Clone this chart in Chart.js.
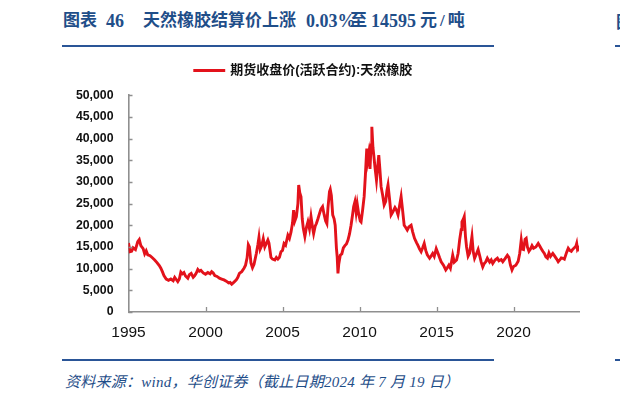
<!DOCTYPE html>
<html>
<head>
<meta charset="utf-8">
<script src="https://cdn.jsdelivr.net/npm/chart.js@4.4.1/dist/chart.umd.min.js"></script>
<style>
    html, body { margin: 0; padding: 0; background: #fff; }
    body { width: 620px; height: 401px; position: relative; overflow: hidden;
           font-family: "Liberation Serif", "Noto Sans CJK SC", serif; }
    .title span { position: absolute; top: 9px; color: #1f4e89; font-size: 17px;
                  font-weight: bold; white-space: pre; line-height: 24px; }
    .title .num { font-size: 18px; }
    .rule { position: absolute; height: 2px; background: #2a5597; }
    .source { position: absolute; left: 65px; top: 372px; color: #1f4e89; font-size: 15px;
              letter-spacing: 0.25px; font-style: italic; white-space: pre; line-height: 20px; }
    .edge { position: absolute; left: 616px; top: 9px; color: #1f4e89; font-size: 17px;
            font-weight: bold; line-height: 24px; font-family: "Noto Sans CJK SC"; }
    #wrap { position: absolute; left: 0; top: 30px; width: 620px; height: 312px; }
</style>
</head>
<body>
<div class="title">
    <span style="left:63px">图表</span>
    <span class="num" style="left:106px">46</span>
    <span style="left:143px">天然橡胶结算价上涨</span>
    <span class="num" style="left:306px">0.03%</span>
    <span style="left:350px">至</span>
    <span class="num" style="left:371px">14595</span>
    <span style="left:420px; letter-spacing:3px">元/吨</span>
</div>
<div class="rule" style="left:62px; top:45px; width:432px;"></div>
<div class="edge">图</div>
<div class="rule" style="left:615px; top:45px; width:5px;"></div>
<div id="wrap"><canvas id="rubberChart"></canvas></div>
<div class="rule" style="left:62px; top:359px; width:432px;"></div>
<div class="rule" style="left:615px; top:359px; width:5px;"></div>
<div class="source">资料来源：wind，华创证券（截止日期2024 年 7 月 19 日）</div>

<script>
// Futures close (active contract), natural rubber, 元/吨
const seriesLabel = '期货收盘价(活跃合约):天然橡胶';

const years = [
    1995.00, 1995.10, 1995.20, 1995.30, 1995.45, 1995.60, 1995.70, 1995.80, 1995.95, 1996.05,
    1996.15, 1996.25, 1996.40, 1996.55, 1996.70, 1996.85, 1997.00, 1997.10, 1997.20, 1997.30,
    1997.45, 1997.60, 1997.75, 1997.90, 1998.00, 1998.10, 1998.20, 1998.30, 1998.40, 1998.50,
    1998.60, 1998.70, 1998.85, 1998.95, 1999.07, 1999.20, 1999.30, 1999.40, 1999.50, 1999.60,
    1999.70, 1999.85, 2000.00, 2000.15, 2000.30, 2000.40, 2000.50, 2000.60, 2000.75, 2000.90,
    2001.05, 2001.20, 2001.35, 2001.50, 2001.60, 2001.70, 2001.85, 2002.00, 2002.10, 2002.20,
    2002.35, 2002.50, 2002.60, 2002.70, 2002.78, 2002.85, 2002.95, 2003.05, 2003.15, 2003.30,
    2003.40, 2003.47, 2003.55, 2003.65, 2003.75, 2003.85, 2003.95, 2004.05, 2004.12, 2004.25,
    2004.35, 2004.50, 2004.60, 2004.70, 2004.80, 2004.90, 2005.00, 2005.10, 2005.20, 2005.35,
    2005.45, 2005.55, 2005.65, 2005.72, 2005.80, 2005.90, 2006.00, 2006.05, 2006.12, 2006.20,
    2006.28, 2006.35, 2006.45, 2006.55, 2006.65, 2006.75, 2006.85, 2006.95, 2007.02, 2007.12,
    2007.20, 2007.30, 2007.40, 2007.50, 2007.60, 2007.70, 2007.80, 2007.88, 2007.95, 2008.05,
    2008.10, 2008.17, 2008.26, 2008.35, 2008.42, 2008.50, 2008.55, 2008.60, 2008.65, 2008.75,
    2008.85, 2008.95, 2009.05, 2009.15, 2009.25, 2009.35, 2009.45, 2009.55, 2009.62, 2009.70,
    2009.78, 2009.85, 2009.95, 2010.05, 2010.10, 2010.20, 2010.30, 2010.38, 2010.47, 2010.53,
    2010.60, 2010.68, 2010.75, 2010.80, 2010.87, 2010.93, 2011.00, 2011.10, 2011.18, 2011.25,
    2011.32, 2011.40, 2011.50, 2011.60, 2011.70, 2011.78, 2011.85, 2011.95, 2012.05, 2012.15,
    2012.30, 2012.40, 2012.50, 2012.60, 2012.70, 2012.78, 2012.90, 2013.00, 2013.10, 2013.20,
    2013.35, 2013.45, 2013.57, 2013.70, 2013.80, 2013.90, 2014.00, 2014.10, 2014.20, 2014.30,
    2014.40, 2014.55, 2014.65, 2014.75, 2014.85, 2014.98, 2015.10, 2015.20, 2015.30, 2015.45,
    2015.60, 2015.70, 2015.80, 2015.90, 2016.05, 2016.15, 2016.30, 2016.40, 2016.50, 2016.60,
    2016.65, 2016.75, 2016.80, 2016.88, 2016.95, 2017.05, 2017.15, 2017.30, 2017.38, 2017.47,
    2017.60, 2017.70, 2017.80, 2017.90, 2018.00, 2018.10, 2018.20, 2018.30, 2018.45, 2018.55,
    2018.65, 2018.80, 2018.95, 2019.05, 2019.20, 2019.30, 2019.45, 2019.60, 2019.70, 2019.80,
    2019.90, 2020.00, 2020.15, 2020.30, 2020.40, 2020.50, 2020.58, 2020.65, 2020.75, 2020.82,
    2020.90, 2021.00, 2021.10, 2021.20, 2021.30, 2021.45, 2021.60, 2021.70, 2021.80, 2021.90,
    2022.00, 2022.10, 2022.20, 2022.30, 2022.40, 2022.55, 2022.65, 2022.80, 2022.90, 2023.00,
    2023.10, 2023.20, 2023.30, 2023.45, 2023.55, 2023.65, 2023.75, 2023.85, 2023.95, 2024.05,
    2024.10, 2024.15, 2024.20, 2024.23
];

const prices = [
    15900, 13900, 14000, 14800, 14400, 16200, 16700, 15300, 14600, 13400,
    14100, 13200, 13000, 12500, 12000, 11400, 10700, 10100, 9300, 8400,
    7600, 7300, 7600, 7200, 8000, 7500, 7000, 7600, 9200, 8800,
    9100, 8300, 7800, 8600, 8900, 8000, 8400, 9000, 9800, 9400,
    9600, 9000, 8700, 9100, 8800, 9300, 9000, 8400, 8200, 7800,
    7600, 7400, 7100, 6700, 6800, 6400, 6900, 7400, 8000, 8900,
    9300, 10100, 10800, 12500, 15500, 15000, 11300, 10200, 11000, 13500,
    15500, 17200, 14500, 15300, 16900, 15000, 15800, 16600, 15900, 12600,
    12200, 12000, 12600, 12200, 12600, 13900, 14200, 15800, 15400, 17700,
    17000, 18400, 20500, 23500, 21000, 22000, 25000, 29300, 27500, 26600,
    21500, 19300, 17400, 19500, 20800, 19200, 22000, 19500, 18100, 19800,
    20400, 21500, 22700, 23800, 24300, 22500, 21000, 20400, 24000, 27800,
    28300, 26900, 22400, 21500, 20000, 14700, 12700, 8900, 11000, 13100,
    13400, 14800, 15300, 15700, 16600, 18000, 20000, 22500, 24300, 25400,
    23000, 24900, 22500, 21000, 20800, 23500, 26600, 31500, 37700, 35000,
    36600, 33000, 38500, 42700, 38000, 36000, 33500, 30400, 33500, 36200,
    33000, 28900, 27000, 24700, 25500, 28000, 29300, 26000, 22400, 23000,
    24100, 23500, 22400, 24500, 26600, 24000, 20000, 19500, 18900, 19600,
    20000, 18500, 17000, 16000, 15300, 14500, 13900, 14800, 15800, 14200,
    13200, 12400, 12900, 13500, 12800, 14600, 13500, 12500, 11600, 10800,
    9700, 10200, 10800, 10100, 13100, 11500, 12000, 13500, 16600, 19000,
    20800, 21500, 22000, 17400, 15000, 12900, 13600, 17400, 14000, 12400,
    13500, 14400, 13000, 11500, 10400, 11200, 11600, 12400, 11500, 12000,
    11200, 12000, 12400, 11800, 12100, 11600, 12300, 13100, 12600, 10800,
    9700, 10500, 10800, 11700, 13500, 16600, 14500, 14400, 16800, 17000,
    15000, 14000, 14500, 15300, 14700, 15000, 15800, 15200, 14600, 14000,
    13500, 12700, 12400, 13600, 12800, 13500, 13000, 12200, 11600, 12000,
    12500, 12400, 12200, 13800, 14700, 14200, 14000, 14500, 14800, 15200,
    15800, 14500, 14800, 14600
];

const yTicks = [0, 5000, 10000, 15000, 20000, 25000, 30000, 35000, 40000, 45000, 50000];
const xTicks = [1995, 2000, 2005, 2010, 2015, 2020];

const AXIS_COLOR = '#8f8f8f';
const LINE_COLOR = '#e3121b';

// short tick marks drawn inward from the axes
const innerTicks = {
    id: 'innerTicks',
    afterDraw(chart) {
        const { ctx, chartArea, scales } = chart;
        ctx.save();
        ctx.strokeStyle = AXIS_COLOR;
        ctx.lineWidth = 1.3;
        ctx.beginPath();
        yTicks.forEach(v => {
            const y = Math.round(scales.y.getPixelForValue(v)) + 0.5;
            ctx.moveTo(chartArea.left, y);
            ctx.lineTo(chartArea.left + 4, y);
        });
        xTicks.slice(1).forEach(v => {
            const x = Math.round(scales.x.getPixelForValue(v)) + 0.5;
            ctx.moveTo(x, chartArea.bottom);
            ctx.lineTo(x, chartArea.bottom - 5);
        });
        ctx.stroke();
        ctx.restore();
    }
};

const ctx = document.getElementById('rubberChart');

new Chart(ctx, {
    type: 'line',
    data: {
        datasets: [{
            label: seriesLabel,
            data: years.map((x, i) => ({ x: x, y: prices[i] })),
            borderColor: LINE_COLOR,
            backgroundColor: LINE_COLOR,
            borderWidth: 2.9,
            pointRadius: 0,
            tension: 0
        }]
    },
    options: {
        responsive: true,
        maintainAspectRatio: false,
        animation: false,
        layout: {
            padding: { left: 28, right: 41, top: 0, bottom: 0 }
        },
        plugins: {
            legend: {
                display: true,
                position: 'top',
                labels: {
                    boxWidth: 29,
                    boxHeight: 0.1,
                    padding: 34,
                    color: '#111',
                    font: { family: '"Liberation Sans", "Noto Sans CJK SC"', size: 13, weight: 'bold' }
                }
            },
            // empty title placed under the legend, only to open the gap above the plot
            title: {
                display: true,
                text: '',
                weight: 500,
                padding: { top: 7, bottom: 0 },
                font: { size: 1 }
            },
            tooltip: { enabled: false }
        },
        scales: {
            x: {
                type: 'linear',
                min: 1995,
                max: 2024.25,
                afterFit(scale) { scale.height = 30; },
                afterBuildTicks(scale) {
                    scale.ticks = xTicks.map(v => ({ value: v }));
                },
                ticks: {
                    padding: 11,
                    color: '#111',
                    maxRotation: 0,
                    autoSkip: false,
                    font: { family: '"Liberation Sans"', size: 15.5 },
                    callback: v => String(v)
                },
                grid: { drawOnChartArea: false, drawTicks: false },
                border: { color: AXIS_COLOR, width: 1.6 }
            },
            y: {
                min: 0,
                max: 50000,
                afterFit(scale) { scale.width = 100.5; },
                afterBuildTicks(scale) {
                    scale.ticks = yTicks.map(v => ({ value: v }));
                },
                ticks: {
                    padding: 15,
                    color: '#111',
                    font: { family: '"Liberation Sans"', size: 12.3, weight: 'bold' },
                    callback: v => v.toLocaleString('en-US')
                },
                grid: { drawOnChartArea: false, drawTicks: false },
                border: { color: AXIS_COLOR, width: 1.6 }
            }
        }
    },
    plugins: [innerTicks]
});
</script>
</body>
</html>
